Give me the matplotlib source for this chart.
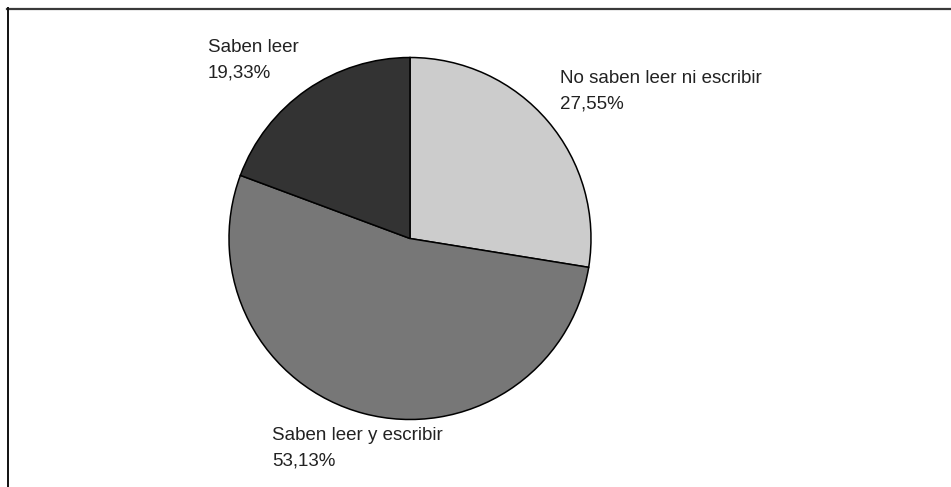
import matplotlib
matplotlib.use("Agg")
import matplotlib.pyplot as plt
from matplotlib.lines import Line2D

labels = ["No saben leer ni escribir", "Saben leer y escribir", "Saben leer"]
values = [27.55, 53.13, 19.33]
colors = ["#cccccc", "#777777", "#333333"]

W, H = 951, 487
fig = plt.figure(figsize=(W / 100, H / 100), dpi=100)
plt.rcParams['font.family'] = ['Liberation Sans', 'DejaVu Sans']

# frame lines along the top and left edge
fig.add_artist(Line2D([7 / W, 1], [1 - 8.5 / H, 1 - 8.5 / H], transform=fig.transFigure,
                      color="#3a3a3a", lw=1.6))
fig.add_artist(Line2D([7.5 / W, 7.5 / W], [0, 1 - 8 / H], transform=fig.transFigure,
                      color="#111111", lw=1.4))

cx, cy, r = 410, 238.5, 181
ax = fig.add_axes([(cx - r) / W, 1 - (cy + r) / H, 2 * r / W, 2 * r / H])
ax.pie(values, colors=colors, startangle=90, counterclock=False, radius=1,
       wedgeprops=dict(edgecolor="black", linewidth=1.1))
ax.set_xlim(-1, 1)
ax.set_ylim(-1, 1)
ax.axis("off")

# label positions (pixel coords of first-line baseline)
pos = [(560, 83), (272, 440.5), (208, 52.5)]
fs = 13.5
for lab, v, (x, y) in zip(labels, values, pos):
    pct = f"{v:.2f}".replace(".", ",") + "%"
    fig.text(x / W, 1 - y / H, lab, fontsize=fs, color="#222222", va="baseline", ha="left")
    fig.text(x / W, 1 - (y + 25.5) / H, pct, fontsize=fs, color="#222222", va="baseline", ha="left")

fig.savefig("out.png", dpi=100)
